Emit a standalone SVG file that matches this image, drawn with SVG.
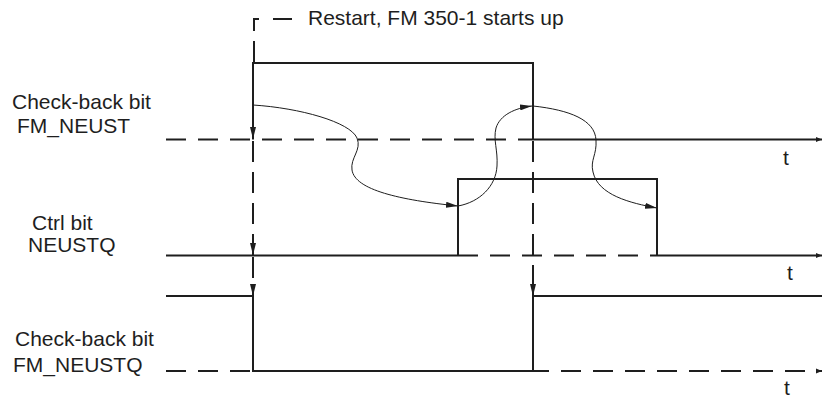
<svg xmlns="http://www.w3.org/2000/svg" width="823" height="399" viewBox="0 0 823 399">
<style>
  text { font-family: "Liberation Sans", Arial, sans-serif; font-size: 21px; fill: #1e1e1e; }
  .sig { fill: none; stroke: #1e1e1e; stroke-width: 2; }
  .dash { fill: none; stroke: #1e1e1e; stroke-width: 2; stroke-dasharray: 20 12; }
  .vdash { fill: none; stroke: #1e1e1e; stroke-width: 2; stroke-dasharray: 21 10; }
  .curve { fill: none; stroke: #1e1e1e; stroke-width: 1; }
</style>
<defs>
  <marker id="ah" viewBox="0 0 12 6" refX="12" refY="3" markerWidth="12" markerHeight="6" markerUnits="userSpaceOnUse" orient="auto">
    <path d="M0,0 L12,3 L0,6 Z" fill="#1e1e1e"/>
  </marker>
  <marker id="ax" viewBox="0 0 6 6" refX="6" refY="3" markerWidth="6" markerHeight="6" markerUnits="userSpaceOnUse" orient="auto">
    <path d="M0,0.5 L6,3 L0,5.5 Z" fill="#1e1e1e"/>
  </marker>
</defs>
<rect width="823" height="399" fill="#ffffff"/>

<g id="restart-marker">
  <path class="sig" d="M254,63 V19 H259" stroke-dasharray="22 10"/>
  <line class="sig" x1="273" y1="19" x2="292" y2="19"/>
  <text x="308" y="25" font-size="20">Restart, FM 350-1 starts up</text>
</g>

<g id="fm-neust">
  <text x="12" y="109">Check-back bit</text>
  <text x="17" y="133">FM_NEUST</text>
  <line class="dash" x1="166" y1="139.5" x2="533" y2="139.5"/>
  <line class="sig" x1="533" y1="139.5" x2="822" y2="139.5" marker-end="url(#ax)"/>
  <path class="sig" d="M253,139.5 V63 H533 V139.5"/>
  <text x="783" y="165">t</text>
</g>

<g id="neustq">
  <text x="32" y="230" font-size="20.5">Ctrl bit</text>
  <text x="28" y="252" font-size="20.5">NEUSTQ</text>
  <line class="sig" x1="166" y1="255.5" x2="458" y2="255.5"/>
  <line class="dash" x1="458" y1="255.5" x2="657" y2="255.5"/>
  <line class="sig" x1="657" y1="255.5" x2="822" y2="255.5" marker-end="url(#ax)"/>
  <path class="sig" d="M458,255.5 V179 H657 V255.5"/>
  <text x="787" y="280">t</text>
</g>

<g id="fm-neustq">
  <text x="15" y="346">Check-back bit</text>
  <text x="13" y="372">FM_NEUSTQ</text>
  <line class="dash" x1="166" y1="371" x2="253" y2="371"/>
  <line class="dash" x1="533" y1="371" x2="822" y2="371" stroke-dashoffset="4" marker-end="url(#ax)"/>
  <path class="sig" d="M166,296 H253 V371 H533 V296 H822"/>
  <text x="784" y="395">t</text>
</g>

<g id="connectors">
  <line class="sig" x1="253" y1="100" x2="253" y2="139" marker-end="url(#ah)"/>
  <line class="vdash" x1="253" y1="141" x2="253" y2="244"/>
  <line class="sig" x1="253" y1="244" x2="253" y2="255" marker-end="url(#ah)"/>
  <line class="vdash" x1="253" y1="257" x2="253" y2="286"/>
  <line class="sig" x1="253" y1="284" x2="253" y2="296" marker-end="url(#ah)"/>
  <line class="vdash" x1="533" y1="141" x2="533" y2="286"/>
  <line class="sig" x1="533" y1="284" x2="533" y2="296" marker-end="url(#ah)"/>
  <path class="curve" d="M253,105 C300,108 350,122 357,138 C362,150 350,158 352,170 C355,190 400,200 458,206" marker-end="url(#ah)"/>
  <path class="curve" d="M458,206 C480,202 496,186 497,166 C498,150 493,140 496,128 C500,115 515,108 532,106" marker-end="url(#ah)"/>
  <path class="curve" d="M533,106 C570,110 595,120 596,140 C597,155 590,160 593,172 C598,195 630,203 657,208" marker-end="url(#ah)"/>
</g>
</svg>
